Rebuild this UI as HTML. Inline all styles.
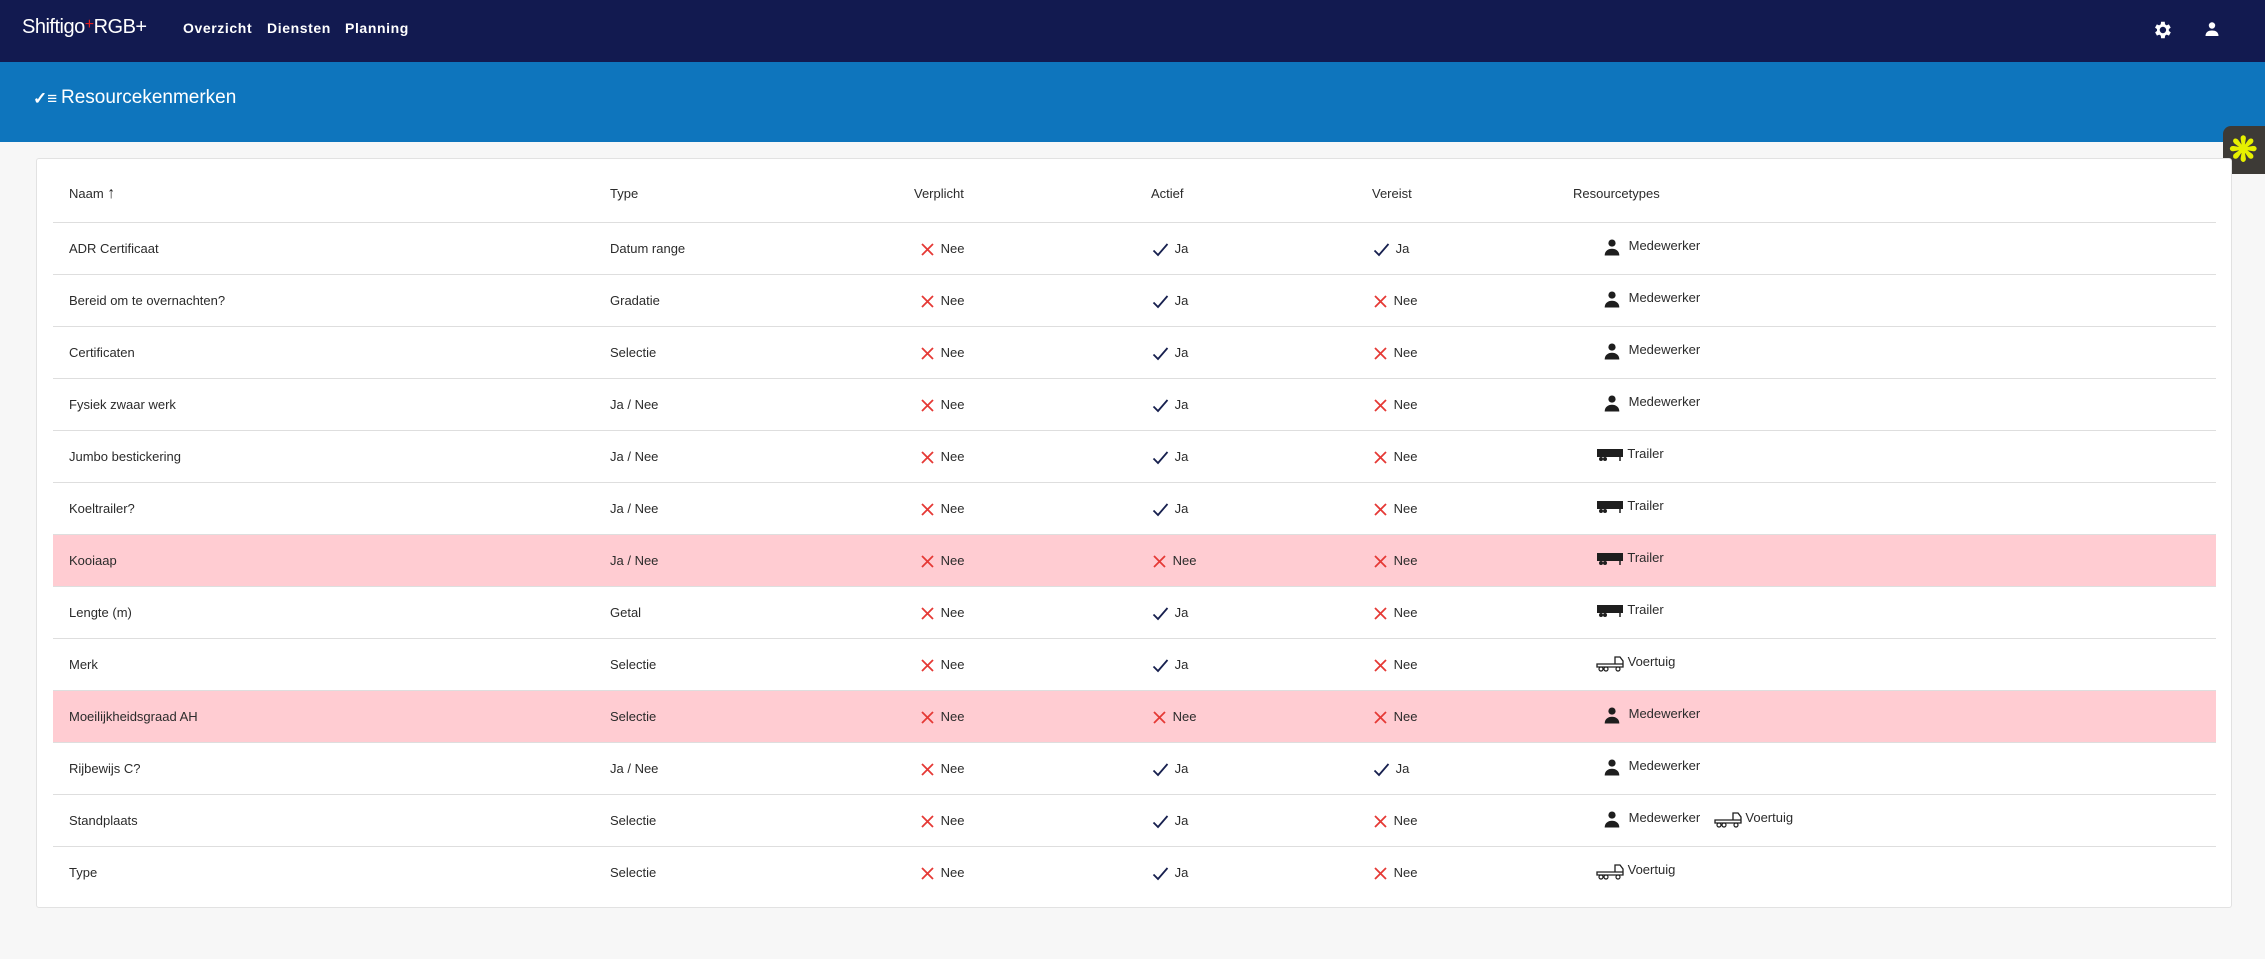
<!DOCTYPE html>
<html><head><meta charset="utf-8"><style>
*{margin:0;padding:0;box-sizing:border-box}
body{width:2265px;height:959px;background:#f7f7f7;font-family:"Liberation Sans",sans-serif;color:#2b2b2b;position:relative;overflow:hidden}
.nav{position:absolute;left:0;top:0;width:2265px;height:62px;background:#121a50}
.band{position:absolute;left:0;top:62px;width:2265px;height:80px;background:#0e75bd}
.card{position:absolute;left:36px;top:158px;width:2196px;height:750px;background:#fff;border:1px solid #e2e2e2;border-radius:3px}
.row{position:absolute;left:53px;width:2163px;height:52px;border-top:1px solid #dedede}
.c{position:absolute;top:0;line-height:52px;font-size:13px;white-space:nowrap}
.pink{background:#ffccd2}
svg{vertical-align:middle}
.hd{position:absolute;top:183px;font-size:13px;line-height:22px}
</style></head><body>
<div class="nav">
 <div style="position:absolute;left:22px;top:16px;color:#fff;font-size:20px;letter-spacing:-0.5px">Shiftigo<span style="color:#e02020;font-size:16px;vertical-align:4px">+</span>RGB+</div>
 <div style="position:absolute;left:183px;top:20px;color:#fff;font-size:14px;font-weight:bold;letter-spacing:0.6px">Overzicht</div>
 <div style="position:absolute;left:267px;top:20px;color:#fff;font-size:14px;font-weight:bold;letter-spacing:0.6px">Diensten</div>
 <div style="position:absolute;left:345px;top:20px;color:#fff;font-size:14px;font-weight:bold;letter-spacing:0.6px">Planning</div>
 <svg style="position:absolute;left:2151px;top:19px" width="22" height="22" viewBox="0 0 24 24"><path fill="#fff" d="M19.4 13a7.5 7.5 0 0 0 0-2l2.1-1.6-2-3.5-2.5 1a7 7 0 0 0-1.7-1L15 3h-4l-.4 2.9a7 7 0 0 0-1.7 1l-2.5-1-2 3.5L6.6 11a7.5 7.5 0 0 0 0 2l-2.1 1.6 2 3.5 2.5-1a7 7 0 0 0 1.7 1L11 21h4l.4-2.9a7 7 0 0 0 1.7-1l2.5 1 2-3.5zM13 15.5a3.5 3.5 0 1 1 0-7 3.5 3.5 0 0 1 0 7z"/></svg>
 <svg style="position:absolute;left:2204px;top:21px" width="16" height="16" viewBox="0 0 16 16"><circle cx="8" cy="4.5" r="3.2" fill="#fff"/><path d="M1.5 15c0-4 3-5.5 6.5-5.5s6.5 1.5 6.5 5.5z" fill="#fff"/></svg>
</div>
<div class="band">
 <div style="position:absolute;left:33px;top:27px;color:#fff;font-size:17px;font-weight:bold">&#10003;&#8801;</div>
 <div style="position:absolute;left:61px;top:25px;color:#fff;font-size:19px">Resourcekenmerken</div>
</div>
<div style="position:absolute;left:2223px;top:126px;width:42px;height:48px;background:#3d3a36;border-radius:8px 0 0 8px">
 <div style="position:absolute;left:6px;top:7px;color:#e6f000;font-size:34px;line-height:34px;font-weight:bold">&#10059;</div>
</div>
<div class="card"></div>
<div class="hd" style="left:69px">Naam <b style="font-size:16px">&#8593;</b></div>
<div class="hd" style="left:610px">Type</div>
<div class="hd" style="left:914px">Verplicht</div>
<div class="hd" style="left:1151px">Actief</div>
<div class="hd" style="left:1372px">Vereist</div>
<div class="hd" style="left:1573px">Resourcetypes</div>
<div id="rows"></div>
<script>
var X='<svg width="15" height="15" viewBox="0 0 15 15"><path d="M2 2L13 13M13 2L2 13" stroke="#e53935" stroke-width="1.8"/></svg>';
var V='<svg width="17" height="15" viewBox="0 0 17 15"><path d="M1.5 8.5L6 13 15.5 2" stroke="#17204f" stroke-width="1.8" fill="none"/></svg>';
var P='<svg width="18" height="18" viewBox="0 0 16 16"><circle cx="8" cy="4.5" r="3.2" fill="#1e1e1e"/><path d="M1.5 15.5c0-4 3-6 6.5-6s6.5 2 6.5 6z" fill="#1e1e1e"/></svg>';
var T='<svg width="28" height="14" viewBox="0 0 28 14"><rect x="1" y="1" width="26" height="8" fill="#1e1e1e"/><circle cx="5" cy="11" r="2" fill="#1e1e1e"/><circle cx="9" cy="11" r="2" fill="#1e1e1e"/><path d="M24 9v4" stroke="#1e1e1e" stroke-width="1.5"/></svg>';
var Vt='<svg width="28" height="18" viewBox="0 0 28 18"><path d="M1 10h26v3H1zM19 10V3h5l3 4v3" stroke="#1e1e1e" stroke-width="1.3" fill="none"/><circle cx="5" cy="15" r="2" stroke="#1e1e1e" fill="#fff" stroke-width="1.2"/><circle cx="10" cy="15" r="2" stroke="#1e1e1e" fill="#fff" stroke-width="1.2"/><circle cx="22" cy="15" r="2" stroke="#1e1e1e" fill="#fff" stroke-width="1.2"/></svg>';
function yn(b){return b?V+' <span style="margin-left:2px">Ja</span>':X+' <span style="margin-left:2px">Nee</span>';}
var rt={M:P+' <span style="margin-left:4px">Medewerker</span>',T:T+' Trailer',V:Vt+' Voertuig'};
var d=[["ADR Certificaat","Datum range",1,1,"M"],["Bereid om te overnachten?","Gradatie",1,0,"M"],["Certificaten","Selectie",1,0,"M"],["Fysiek zwaar werk","Ja / Nee",1,0,"M"],["Jumbo bestickering","Ja / Nee",1,0,"T"],["Koeltrailer?","Ja / Nee",1,0,"T"],["Kooiaap","Ja / Nee",0,0,"T",1],["Lengte (m)","Getal",1,0,"T"],["Merk","Selectie",1,0,"V"],["Moeilijkheidsgraad AH","Selectie",0,0,"M",1],["Rijbewijs C?","Ja / Nee",1,1,"M"],["Standplaats","Selectie",1,0,"MV"],["Type","Selectie",1,0,"V"]];
var h='';
d.forEach(function(r,i){
 var top=222+i*52;
 var res=r[4]=="MV"?rt.M+' <span style="margin-left:10px"></span>'+rt.V:rt[r[4]];
 var ic=(r[4]=="M"||r[4]=="MV")?1603:1596;
 h+='<div class="row'+(r[5]?' pink':'')+'" style="top:'+top+'px">'+
 '<div class="c" style="left:16px">'+r[0]+'</div>'+
 '<div class="c" style="left:557px">'+r[1]+'</div>'+
 '<div class="c" style="left:867px">'+yn(0)+'</div>'+
 '<div class="c" style="left:1099px">'+yn(r[2])+'</div>'+
 '<div class="c" style="left:1320px">'+yn(r[3])+'</div>'+
 '<div class="c" style="left:'+(ic-53)+'px;line-height:46px">'+res+'</div></div>';
});
document.getElementById('rows').innerHTML=h;
</script>
</body></html>
